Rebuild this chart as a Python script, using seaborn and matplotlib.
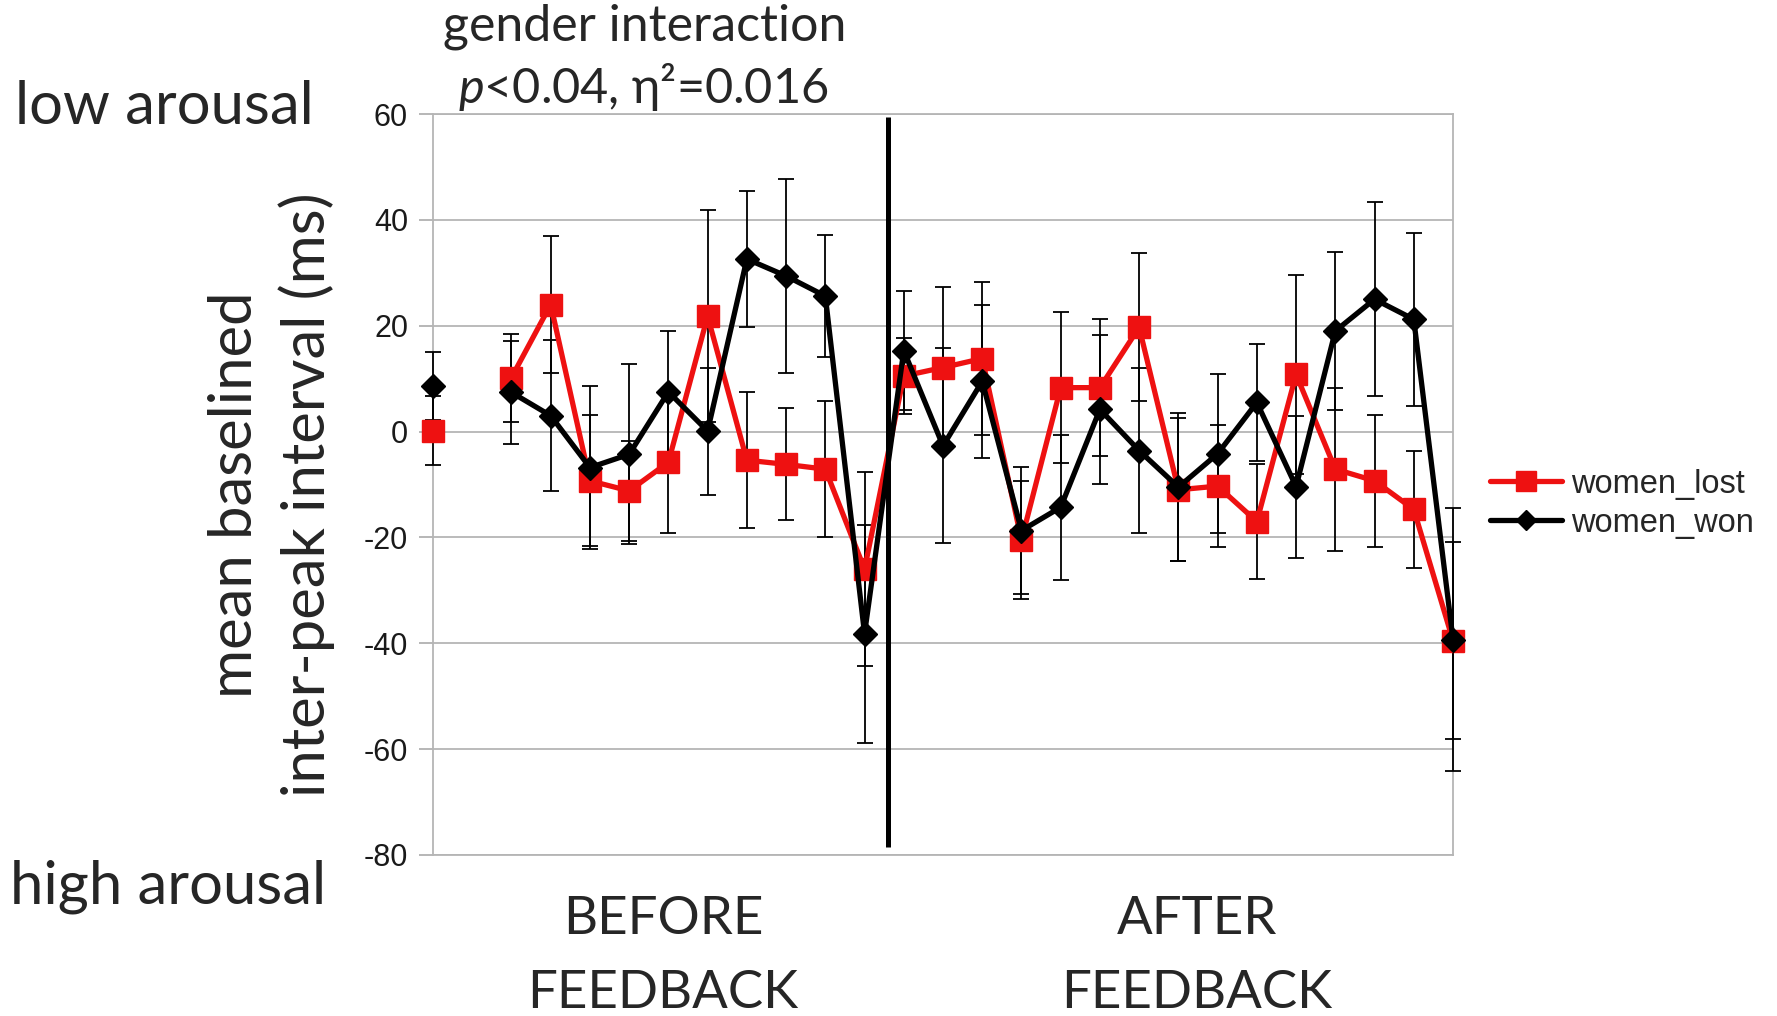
import numpy as np
import pandas as pd
import matplotlib
matplotlib.use("Agg")
import matplotlib.pyplot as plt
from matplotlib.lines import Line2D
import seaborn as sns

# Trial positions (position 1 has no data)
positions = list(range(27))

women_lost = [0.2, np.nan, 10.2, 24.0, -9.3, -11.2, -5.8, 21.8, -5.4, -6.2, -7.1, -26.0,
              10.5, 12.1, 13.8, -20.5, 8.3, 8.3, 19.7, -11.0, -10.3, -17.0, 10.8, -7.1,
              -9.3, -14.7, -39.5]
women_lost_err = [6.6, np.nan, 8.3, 13.0, 12.4, 9.5, 13.4, 20.0, 12.8, 10.6, 12.9, 18.3,
                  7.2, 15.2, 14.5, 11.2, 14.2, 13.0, 14.0, 13.5, 11.6, 10.9, 18.8, 15.4,
                  12.5, 11.1, 18.6]
women_won = [8.6, np.nan, 7.4, 3.0, -6.8, -4.3, 7.5, 0.1, 32.6, 29.4, 25.6, -38.2,
             15.3, -2.7, 9.5, -18.7, -14.3, 4.2, -3.6, -10.5, -4.2, 5.5, -10.4, 19.0,
             25.0, 21.2, -39.3]
women_won_err = [6.5, np.nan, 9.7, 14.3, 15.4, 17.0, 11.5, 12.0, 12.8, 18.3, 11.6, 20.6,
                 11.3, 18.4, 14.4, 12.0, 13.7, 14.1, 15.6, 14.0, 15.0, 11.1, 13.4, 15.0,
                 18.3, 16.3, 24.8]

series_names = ["women_lost", "women_won"]
y_ticks = [-80, -60, -40, -20, 0, 20, 40, 60]
y_tick_labels = ["-80", "-60", "-40", "-20", "0", "20", "40", "60"]
feedback_onset = 11.6

# Long-form table; "segment" splits the lines at the empty position
frames = []
for name, vals, errs in [("women_lost", women_lost, women_lost_err),
                         ("women_won", women_won, women_won_err)]:
    d = pd.DataFrame({"position": positions, "value": vals, "err": errs})
    d["series"] = name
    d["segment"] = (d["position"] > 1).astype(int)
    frames.append(d.dropna())
df = pd.concat(frames, ignore_index=True)

sns.set_theme(style="white")
plt.rcParams["font.family"] = ["Liberation Sans", "DejaVu Sans"]
plt.rcParams["axes.unicode_minus"] = False
plt.rcParams["mathtext.fontset"] = "custom"
plt.rcParams["mathtext.rm"] = "Lato"
plt.rcParams["mathtext.it"] = "Lato:italic"

W, H = 1777, 1016
fig = plt.figure(figsize=(W / 100, H / 100), dpi=100)
ax = fig.add_axes([433 / W, 1 - 855 / H, (1453 - 433) / W, (855 - 114) / H])

styles = {
    "women_lost": dict(color="#ee1111", marker="s", markersize=16, zorder=3),
    "women_won": dict(color="black", marker="D", markersize=12, zorder=4),
}

for name in series_names:
    sub = df[df["series"] == name]
    st = styles[name]
    ax.errorbar(sub["position"], sub["value"], yerr=sub["err"], fmt="none",
                ecolor="black", elinewidth=1.3, capsize=6, capthick=1.3,
                zorder=2.6, clip_on=False)
    sns.lineplot(data=sub, x="position", y="value", units="segment", estimator=None,
                 color=st["color"], marker=st["marker"], markersize=st["markersize"],
                 markeredgecolor=st["color"], markeredgewidth=1, linewidth=3.8,
                 zorder=st["zorder"], clip_on=False, legend=False, ax=ax)

ax.vlines(feedback_onset, -78.4, 59.5, color="black", linewidth=3.6, zorder=5)

ax.set_xlim(0, 26)
ax.set_ylim(-80, 60)
ax.set_xticks([])
ax.set_yticks(y_ticks)
ax.set_yticklabels(y_tick_labels, fontsize=22, color="#1a1a1a")
ax.tick_params(axis="y", direction="out", length=10, width=1.2, color="#aaaaaa", pad=8,
               left=True)
ax.grid(axis="y", color="#b5b5b5", linewidth=1.3)
ax.set_axisbelow(True)
for sp in ax.spines.values():
    sp.set_color("#b5b5b5")
    sp.set_linewidth(1.3)
ax.set_xlabel("")
ax.set_ylabel("")

handles = [
    Line2D([], [], color="#ee1111", lw=3.8, marker="s", markersize=14,
           markeredgecolor="#ee1111"),
    Line2D([], [], color="black", lw=3.8, marker="D", markersize=10),
]
ax.legend(handles, series_names, loc="center left", bbox_to_anchor=(1.036, 0.474),
          frameon=False, fontsize=23.5, handlelength=2.2, handletextpad=0.3,
          labelspacing=0.25, borderpad=0, borderaxespad=0)

lato = ["Lato", "DejaVu Sans"]
fig.text(15 / W, 1 - 124 / H, "low arousal", ha="left", va="baseline",
         family=lato, fontsize=43)
fig.text(10 / W, 1 - 904 / H, "high arousal", ha="left", va="baseline",
         family=lato, fontsize=43)
fig.text(645 / W, 1 - 40 / H, "gender interaction", ha="center", va="baseline",
         family=lato, fontsize=36)
fig.text(643 / W, 1 - 103 / H, r"$p$<0.04, η²=0.016", ha="center",
         va="baseline", family=lato, fontsize=35)
for cx, first in [(663, "BEFORE"), (1197, "AFTER")]:
    fig.text(cx / W, 1 - 934 / H, first, ha="center", va="baseline",
             family=lato, fontsize=38)
    fig.text(cx / W, 1 - 1008 / H, "FEEDBACK", ha="center", va="baseline",
             family=lato, fontsize=38)
fig.text(252 / W, 1 - 495 / H, "mean baselined", rotation=90, rotation_mode="anchor",
         ha="center", va="baseline", family=lato, fontsize=43)
fig.text(325 / W, 1 - 495 / H, "inter-peak interval (ms)", rotation=90,
         rotation_mode="anchor", ha="center", va="baseline", family=lato, fontsize=43)

fig.savefig("out.png", dpi=100)
